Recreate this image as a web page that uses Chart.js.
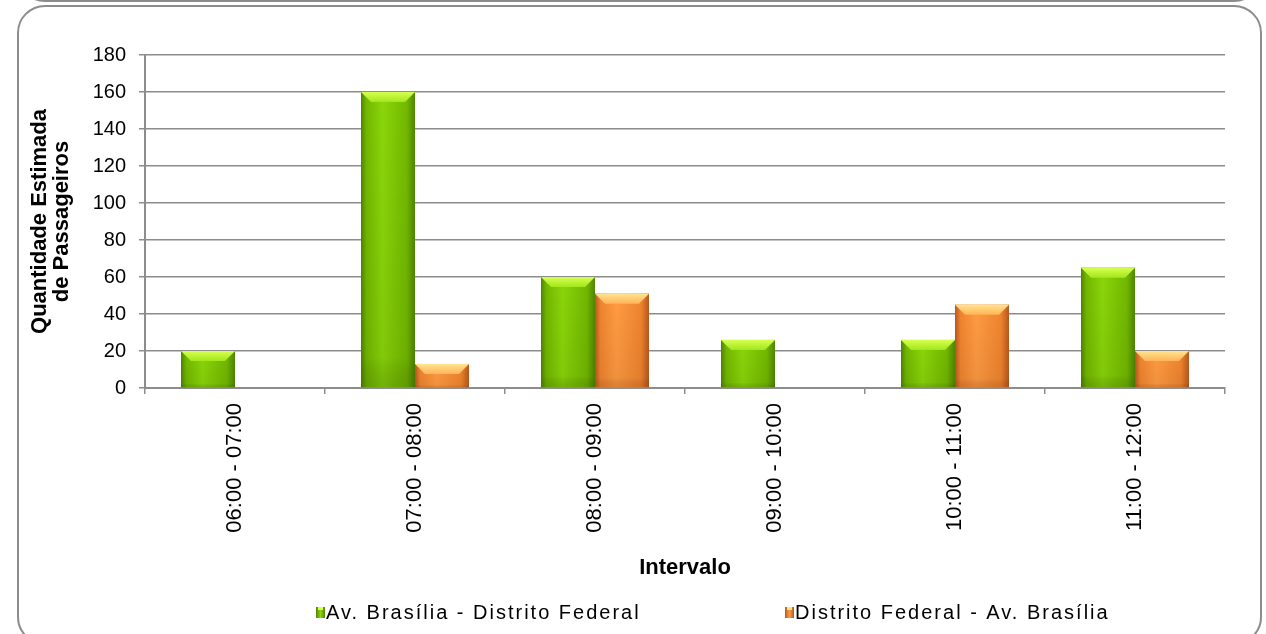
<!DOCTYPE html>
<html>
<head>
<meta charset="utf-8">
<script src="https://cdn.jsdelivr.net/npm/chart.js@4.4.0/dist/chart.umd.min.js"></script>
<style>
html, body { margin: 0; padding: 0; background: #fff; }
#wrap { position: relative; width: 1266px; height: 634px; overflow: hidden; }
.frame { position: absolute; border: 2px solid #8c8c8c; border-radius: 28px; box-sizing: border-box; }
canvas { position: absolute; left: 0; top: 0; }
</style>
</head>
<body>
<div id="wrap">
  <div class="frame" style="left:17px;top:-60px;width:1245px;height:62px"></div>
  <div class="frame" style="left:17px;top:5px;width:1245px;height:640px"></div>
  <canvas id="passageirosChart" width="1266" height="634"></canvas>
</div>
<script>
// Dados
const intervalos = ['06:00 - 07:00', '07:00 - 08:00', '08:00 - 09:00', '09:00 - 10:00', '10:00 - 11:00', '11:00 - 12:00'];
const avBrasiliaDF = [20, 160, 60, 26, 26, 65];
const dfAvBrasilia = [0, 13, 51, 0, 45, 20];
const serieNomes = ['Av. Brasília - Distrito Federal', 'Distrito Federal - Av. Brasília'];

// cores do efeito "bisel" de cada série
const palettes = [
    { base: '#7cc300', edge: '#4f8600', mid: '#72b800', light: '#8ad60a', top: '#d6ff50', topEnd: '#a2e61c', bottom: 'rgba(40,70,0,0.25)' },
    { base: '#f58a30', edge: '#b8581c', mid: '#f0842f', light: '#ff9b42', top: '#ffe48f', topEnd: '#ffb458', bottom: 'rgba(120,50,0,0.25)' }
];

const bevelBars = {
    id: 'bevelBars',
    afterDatasetDraw(chart, args) {
        const pal = palettes[args.index];
        const ctx = chart.ctx;
        args.meta.data.forEach(bar => {
            const { x, y, base, width } = bar.getProps(['x', 'y', 'base', 'width'], true);
            const h = base - y;
            if (h < 1) return;
            const l = x - width / 2, r = x + width / 2;
            ctx.save();
            const g = ctx.createLinearGradient(l, 0, r, 0);
            g.addColorStop(0, pal.edge);
            g.addColorStop(0.1, pal.mid);
            g.addColorStop(0.4, pal.light);
            g.addColorStop(0.85, pal.mid);
            g.addColorStop(1, pal.edge);
            ctx.fillStyle = g;
            ctx.fillRect(l, y, width, h);
            const v = ctx.createLinearGradient(0, y, 0, base);
            v.addColorStop(0, 'rgba(0,0,0,0)');
            v.addColorStop(0.9, 'rgba(0,0,0,0.06)');
            v.addColorStop(1, pal.bottom);
            ctx.fillStyle = v;
            ctx.fillRect(l, y, width, h);
            // bisel no topo
            const b = Math.min(10, h / 2);
            ctx.beginPath();
            ctx.moveTo(l, y);
            ctx.lineTo(r, y);
            ctx.lineTo(r - b, y + b);
            ctx.lineTo(l + b, y + b);
            ctx.closePath();
            const tg = ctx.createLinearGradient(0, y, 0, y + b);
            tg.addColorStop(0, pal.top);
            tg.addColorStop(1, pal.topEnd);
            ctx.fillStyle = tg;
            ctx.fill();
            ctx.restore();
        });
    }
};

const customLegend = {
    id: 'customLegend',
    afterDraw(chart) {
        const ctx = chart.ctx;
        const items = [{ x: 316 }, { x: 785 }];
        const cy = 612;
        ctx.save();
        ctx.font = '20px "Liberation Sans", Arial, sans-serif';
        ctx.letterSpacing = '2px';
        ctx.textBaseline = 'middle';
        ctx.fillStyle = '#000';
        items.forEach((it, i) => {
            const pal = palettes[i];
            const g = ctx.createLinearGradient(it.x, 0, it.x + 9, 0);
            g.addColorStop(0, pal.edge);
            g.addColorStop(0.5, pal.light);
            g.addColorStop(1, pal.edge);
            ctx.fillStyle = g;
            ctx.fillRect(it.x, cy - 5, 9, 11);
            ctx.fillStyle = pal.top;
            ctx.fillRect(it.x + 2, cy - 5, 5, 3);
            ctx.fillStyle = '#000';
            ctx.fillText(chart.data.datasets[i].label, it.x + 10, cy + 1);
        });
        ctx.restore();
    }
};

const gridGray = '#8c8c8c';

new Chart(document.getElementById('passageirosChart').getContext('2d'), {
    type: 'bar',
    data: {
        labels: intervalos,
        datasets: [{
            label: serieNomes[0],
            data: avBrasiliaDF,
            backgroundColor: palettes[0].base
        }, {
            label: serieNomes[1],
            data: dfAvBrasilia,
            backgroundColor: palettes[1].base
        }]
    },
    plugins: [bevelBars, customLegend],
    options: {
        responsive: false,
        animation: false,
        categoryPercentage: 0.6,
        barPercentage: 1.0,
        layout: { padding: { left: 20, right: 41, top: 55, bottom: 40 } },
        plugins: {
            legend: { display: false },
            tooltip: { enabled: false }
        },
        scales: {
            x: {
                grid: { display: true, drawOnChartArea: false, drawTicks: true, tickLength: 6, color: gridGray, lineWidth: 1.5 },
                border: { display: true, color: gridGray, width: 2 },
                ticks: {
                    minRotation: 90, maxRotation: 90, padding: 9, color: '#000',
                    font: { family: '"Liberation Sans", Arial, sans-serif', size: 22 }
                },
                title: {
                    display: true, text: 'Intervalo', color: '#000',
                    font: { family: '"Liberation Sans", Arial, sans-serif', size: 22, weight: 'bold' },
                    padding: { top: 0, bottom: 13 }
                },
                afterFit: scale => { scale.height = 206; }
            },
            y: {
                min: 0, max: 180,
                grid: { color: gridGray, lineWidth: 1.5, tickLength: 6 },
                border: { display: true, color: gridGray, width: 2 },
                ticks: {
                    stepSize: 20, padding: 13, color: '#000',
                    font: { family: '"Liberation Sans", Arial, sans-serif', size: 20 }
                },
                title: {
                    display: true, text: ['Quantidade Estimada', 'de Passageiros'], color: '#000',
                    font: { family: '"Liberation Sans", Arial, sans-serif', size: 22, weight: 'bold', lineHeight: 1.0 },
                    padding: { top: 9, bottom: 4 }
                },
                afterFit: scale => { scale.width = 125; }
            }
        }
    }
});
</script>
</body>
</html>
